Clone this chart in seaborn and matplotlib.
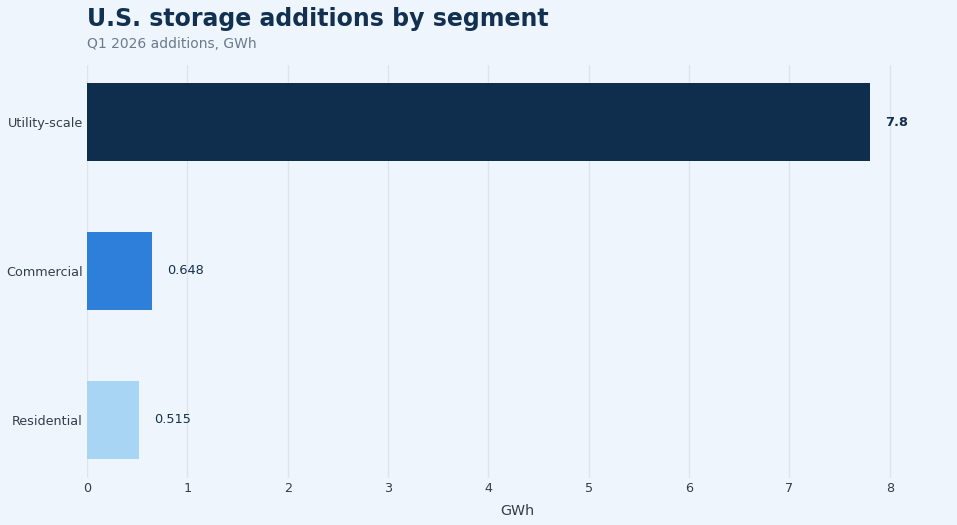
import matplotlib
matplotlib.use("Agg")
import matplotlib.pyplot as plt
import pandas as pd
import seaborn as sns

SEGMENTS = ["Utility-scale", "Commercial", "Residential"]
ADDITIONS_GWH = [7.8, 0.648, 0.515]
VALUE_LABELS = ["7.8", "0.648", "0.515"]
BAR_COLORS = ["#0f2e4d", "#2e7fd9", "#a9d5f5"]

BG = "#eef5fc"
TEXT_DARK = "#12304f"
TEXT_MUTED = "#6b7a8f"
TICK_COLOR = "#333d4b"

sns.set_theme(style="white")
plt.rcParams["font.family"] = ["DejaVu Sans"]

df = pd.DataFrame({"segment": SEGMENTS, "gwh": ADDITIONS_GWH})

fig = plt.figure(figsize=(9.57, 5.25), dpi=100, facecolor=BG)
ax = fig.add_axes([87 / 957, 1 - 477.5 / 525, (948 - 87) / 957, (477.5 - 64.5) / 525])
ax.set_facecolor(BG)

sns.barplot(
    data=df,
    x="gwh",
    y="segment",
    hue="segment",
    palette=dict(zip(SEGMENTS, BAR_COLORS)),
    width=0.52,
    legend=False,
    ax=ax,
    saturation=1,
    linewidth=0,
)

for bar, txt, val in zip(ax.patches, VALUE_LABELS, ADDITIONS_GWH):
    y = bar.get_y() + bar.get_height() / 2
    ax.annotate(
        txt,
        xy=(val, y),
        xytext=(11, 0),
        textcoords="offset points",
        va="center",
        ha="left",
        fontsize=9.3,
        color=TEXT_DARK,
        fontweight="bold" if val == max(ADDITIONS_GWH) else "normal",
    )

ax.set_xlim(0, 8.58)
ax.set_ylim(2.386, -0.386)
ax.set_xticks(range(0, 9))
ax.grid(axis="x", color="#dce4ec", linewidth=1)
ax.set_axisbelow(True)
for s in ax.spines.values():
    s.set_visible(False)
ax.tick_params(axis="both", length=0, labelsize=9.2, colors=TICK_COLOR, pad=3)
ax.set_ylabel("")
ax.set_xlabel("GWh", fontsize=10.3, color=TICK_COLOR, labelpad=7)

fig.text(87 / 957, 1 - 19 / 525, "U.S. storage additions by segment",
         fontsize=17, fontweight="bold", color=TEXT_DARK, va="center", ha="left")
fig.text(87 / 957, 1 - 44 / 525, "Q1 2026 additions, GWh",
         fontsize=10, color=TEXT_MUTED, va="center", ha="left")

fig.savefig("out.png", dpi=100, facecolor=BG)
